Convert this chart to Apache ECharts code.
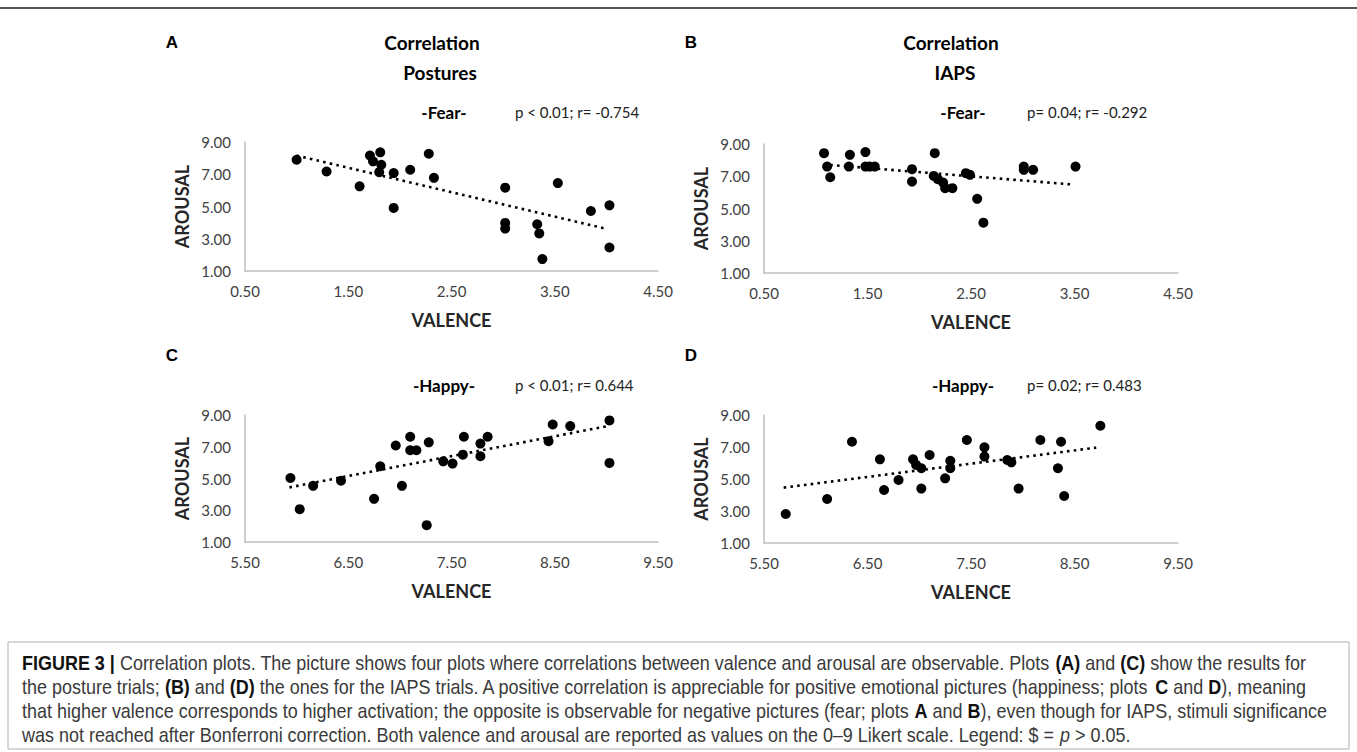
<!DOCTYPE html>
<html>
<head>
<meta charset="utf-8">
<script src="https://cdn.jsdelivr.net/npm/echarts@6/dist/echarts.min.js"></script>
<style>
html,body{margin:0;padding:0;background:#fff;}
#chart{width:1357px;height:752px;}
</style>
</head>
<body>
<div id="chart"></div>
<script>
// ---------- DATA ----------
const fearXTicks = ['0.50','1.50','2.50','3.50','4.50'];
const happyXTicks = ['5.50','6.50','7.50','8.50','9.50'];
const yTicks = ['1.00','3.00','5.00','7.00','9.00'];

// Panel A: Postures, Fear
const aValence = [1.00,1.29,1.61,1.71,1.74,1.81,1.82,1.80,1.94,1.94,2.10,2.28,2.33,3.02,3.02,3.02,3.33,3.35,3.38,3.53,3.85,4.03,4.03];
const aArousal = [7.90,7.17,6.25,8.16,7.80,8.36,7.59,7.13,7.07,4.91,7.28,8.27,6.78,6.17,3.98,3.63,3.90,3.33,1.74,6.45,4.72,5.07,2.46];
const aTrend = [[1.00,8.16],[4.01,3.60]];

// Panel B: IAPS, Fear
const bValence = [1.08,1.11,1.14,1.33,1.32,1.48,1.48,1.52,1.57,1.93,1.93,2.15,2.14,2.18,2.23,2.25,2.32,2.45,2.49,2.56,2.62,3.01,3.01,3.10,3.51];
const bArousal = [8.43,7.60,6.94,8.33,7.60,8.50,7.60,7.60,7.60,7.44,6.67,8.43,7.02,6.82,6.61,6.26,6.26,7.19,7.09,5.60,4.12,7.60,7.40,7.40,7.60];
const bTrend = [[1.14,7.70],[3.46,6.50]];

// Panel C: Postures, Happy
const cValence = [5.94,6.03,6.16,6.43,6.75,6.81,6.96,7.02,7.10,7.10,7.16,7.26,7.28,7.42,7.51,7.62,7.61,7.78,7.78,7.85,8.44,8.48,8.65,9.03,9.03];
const cArousal = [5.03,3.07,4.54,4.86,3.72,5.77,7.08,4.54,7.63,6.78,6.78,2.06,7.28,6.08,5.94,7.63,6.50,7.20,6.40,7.63,7.35,8.40,8.30,8.66,5.98];
const cTrend = [[5.93,4.44],[9.01,8.30]];

// Panel D: IAPS, Happy
const dValence = [5.71,6.11,6.35,6.62,6.66,6.80,6.94,6.97,7.02,7.02,7.10,7.25,7.30,7.30,7.46,7.63,7.63,7.85,7.89,7.96,8.17,8.37,8.34,8.40,8.75];
const dArousal = [2.81,3.75,7.33,6.23,4.31,4.94,6.23,5.88,5.67,4.40,6.50,5.04,6.14,5.67,7.44,6.98,6.40,6.19,6.04,4.40,7.44,7.33,5.67,3.94,8.33];
const dTrend = [[5.69,4.46],[8.71,6.96]];

const statsText = ['p < 0.01; r= -0.754','p= 0.04; r= -0.292','p < 0.01; r= 0.644','p= 0.02; r= 0.483'];

const captionLines = [
  '{b|FIGURE 3 |} Correlation plots. The picture shows four plots where correlations between valence and arousal are observable. Plots {b|(A)} and {b|(C)} show the results for',
  'the posture trials; {b|(B)} and {b|(D)} the ones for the IAPS trials. A positive correlation is appreciable for positive emotional pictures (happiness; plots {b|C} and {b|D}), meaning',
  'that higher valence corresponds to higher activation; the opposite is observable for negative pictures (fear; plots {b|A} and {b|B}), even though for IAPS, stimuli significance',
  'was not reached after Bonferroni correction. Both valence and arousal are reported as values on the 0\u20139 Likert scale. Legend: $ = {i|p} > 0.05.'
];

// ---------- CHART ----------
const zip = (xs, ys) => xs.map((x, i) => [x, ys[i]]);
const F = 'Lato, "Open Sans", sans-serif';
const grids = [
  {left:245, top:142, width:413, height:129},
  {left:764, top:144, width:414, height:129},
  {left:245, top:415, width:413, height:127},
  {left:764, top:415, width:414, height:128}
];
const xTicksFor = [fearXTicks, fearXTicks, happyXTicks, happyXTicks];

const xAxes = grids.map((g, i) => {
  const t = xTicksFor[i];
  return {
    gridIndex:i, type:'value', min:parseFloat(t[0]), max:parseFloat(t[t.length-1]), interval:1,
    name:'VALENCE', nameLocation:'middle', nameGap:40,
    nameTextStyle:{fontFamily:F, fontWeight:'bold', fontSize:18, color:'#262626'},
    axisLine:{show:true, onZero:false, lineStyle:{color:'#bfbfbf', width:1.5}},
    axisTick:{show:false}, splitLine:{show:false},
    axisLabel:{fontFamily:F, fontSize:15, color:'#404040', margin:12,
      formatter:(v)=>{ const s=v.toFixed(2); return t.indexOf(s)>=0 ? s : ''; }}
  };
});
const yAxes = grids.map((g, i) => ({
  gridIndex:i, type:'value', min:parseFloat(yTicks[0]), max:parseFloat(yTicks[yTicks.length-1]), interval:2,
  name:'AROUSAL', nameLocation:'middle', nameGap:54, nameRotate:90,
  nameTextStyle:{fontFamily:F, fontWeight:'bold', fontSize:18, color:'#262626'},
  axisLine:{show:true, onZero:false, lineStyle:{color:'#bfbfbf', width:1.5}},
  axisTick:{show:false}, splitLine:{show:false},
  axisLabel:{fontFamily:F, fontSize:15, color:'#404040', margin:14, formatter:(v)=>v.toFixed(2)}
}));

const pts = [zip(aValence,aArousal), zip(bValence,bArousal), zip(cValence,cArousal), zip(dValence,dArousal)];
const trends = [aTrend, bTrend, cTrend, dTrend];
const series = [];
pts.forEach((p, i) => {
  series.push({type:'line', xAxisIndex:i, yAxisIndex:i, data:trends[i], showSymbol:false, silent:true,
    lineStyle:{color:'#000', width:2.6, type:[2.6,4.2], cap:'butt'}, z:1});
  series.push({type:'scatter', xAxisIndex:i, yAxisIndex:i, data:p, symbolSize:10,
    itemStyle:{color:'#000', opacity:1}, z:2});
});

function txt(x, y, text, size, weight, family, align, color) {
  return {type:'text', x:x, y:y, silent:true, style:{text:text, fontSize:size, fontWeight:weight||'normal',
    fontFamily:family||F, fill:color||'#000', textAlign:align||'center', textVerticalAlign:'middle'}};
}
const AR = '"Liberation Sans", Arial, sans-serif';
const CAP = '"Liberation Sans", Arial, sans-serif';
const CAPSIZE = 20;

// horizontal condensing factor for the caption (narrow typeface look)
const strip = (s) => s.replace(/\{[a-z]\|([^}]*)\}/g, '$1');
let capScale = 0.8;
try {
  const ctx = document.createElement('canvas').getContext('2d');
  ctx.font = CAPSIZE + 'px "Liberation Sans", Arial, sans-serif';
  const w = ctx.measureText(strip(captionLines[0])).width;
  if (w > 0) capScale = 1296 / (w * 1.01);
} catch (e) {}

const graphic = [
  {type:'line', silent:true, shape:{x1:0, y1:8, x2:1357, y2:8}, style:{stroke:'#555', lineWidth:2}},
  txt(172, 42, 'A', 17, 'bold', AR),
  txt(691, 42, 'B', 17, 'bold', AR),
  txt(172, 355, 'C', 17, 'bold', AR),
  txt(691, 355, 'D', 17, 'bold', AR),
  txt(432, 42, 'Correlation', 19, 'bold'),
  txt(440, 72, 'Postures', 19, 'bold'),
  txt(951, 42, 'Correlation', 19, 'bold'),
  txt(955, 72, 'IAPS', 19, 'bold'),
  txt(444, 112, '-Fear-', 17, 'bold'),
  txt(963, 112, '-Fear-', 17, 'bold'),
  txt(444, 385, '-Happy-', 17, 'bold'),
  txt(963, 385, '-Happy-', 17, 'bold'),
  txt(515, 112, statsText[0], 15, 'normal', F, 'left', '#222'),
  txt(1027, 112, statsText[1], 15, 'normal', F, 'left', '#222'),
  txt(515, 385, statsText[2], 15, 'normal', F, 'left', '#222'),
  txt(1027, 385, statsText[3], 15, 'normal', F, 'left', '#222'),
  {type:'rect', silent:true, shape:{x:8, y:642, width:1341, height:107}, style:{fill:'#fff', stroke:'#b0b0b0', lineWidth:1}}
];
const capY = [663, 687, 711, 735];
captionLines.forEach((line, i) => {
  graphic.push({type:'text', x:22, y:capY[i], scaleX:capScale, scaleY:1, silent:true,
    style:{text:line, fontSize:CAPSIZE, fontFamily:CAP, fill:'#3a3a3a',
    textAlign:'left', textVerticalAlign:'middle',
    rich:{b:{fontWeight:'bold', fontSize:CAPSIZE, fontFamily:CAP, fill:'#111'},
          i:{fontStyle:'italic', fontSize:CAPSIZE, fontFamily:CAP, fill:'#3a3a3a'}}}});
});

const chart = echarts.init(document.getElementById('chart'), null, {renderer:'svg'});
chart.setOption({
  animation:false,
  backgroundColor:'#fff',
  grid:grids,
  xAxis:xAxes,
  yAxis:yAxes,
  series:series,
  graphic:graphic
});
</script>
</body>
</html>
